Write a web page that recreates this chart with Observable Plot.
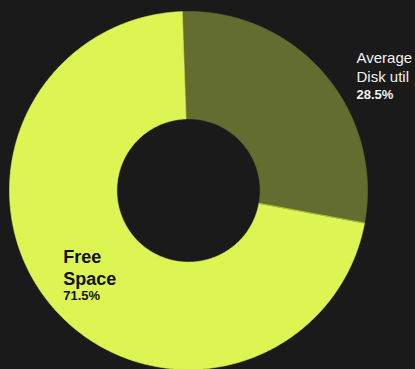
<!DOCTYPE html>
<html>
<head>
<meta charset="utf-8">
<script src="https://cdn.jsdelivr.net/npm/d3@7"></script>
<script src="https://cdn.jsdelivr.net/npm/@observablehq/plot@0.6"></script>
<style>
  html, body { margin: 0; padding: 0; background: #1a1a1a; }
  #chart svg { display: block; background: #1a1a1a; }
</style>
</head>
<body>
<div id="chart"></div>
<script>
// ---- data ----
const names = ["Average\nDisk util", "Free\nSpace"];
const values = [28.5, 71.5];
const colors = ["#646d30", "#dcf553"];

// ---- geometry (in unit-circle data space) ----
const innerR = 0.4;
const deg = Math.PI / 180;
const pie = d3.pie().sort(null).value(d => d.value).startAngle(-2 * deg).endAngle(358 * deg);
const slices = pie(names.map((name, i) => ({name, value: values[i], i})));

const poly = [];
for (const s of slices) {
  const n = Math.max(2, Math.ceil((s.endAngle - s.startAngle) / (0.5 * deg)));
  for (let k = 0; k <= n; k++) {
    const a = s.startAngle + (s.endAngle - s.startAngle) * k / n;
    poly.push({name: s.data.name, x: Math.sin(a), y: -Math.cos(a)});
  }
  for (let k = n; k >= 0; k--) {
    const a = s.startAngle + (s.endAngle - s.startAngle) * k / n;
    poly.push({name: s.data.name, x: innerR * Math.sin(a), y: -innerR * Math.cos(a)});
  }
}

function labelPoint(s, r) {
  const a = (s.startAngle + s.endAngle) / 2;
  return {name: s.data.name, pct: d3.format(".1f")(s.data.value) + "%", x: r * Math.sin(a), y: -r * Math.cos(a)};
}
const outerLabel = [labelPoint(slices[0], 1.238)];
const innerLabel = [labelPoint(slices[1], 0.923)];

const font = "Liberation Sans, Arial, Helvetica, sans-serif";

const chart = Plot.plot({
  width: 415,
  height: 369,
  margin: 0,
  style: {background: "#1a1a1a", fontFamily: font},
  x: {domain: [-1, 1], range: [9, 367], axis: null},
  y: {domain: [-1, 1], range: [11, 369], axis: null},
  color: {domain: names, range: colors},
  marks: [
    Plot.line(poly, {x: "x", y: "y", z: "name", fill: "name", stroke: "name", strokeWidth: 0.6, curve: "linear-closed"}),
    // outside label (Average Disk util)
    Plot.text(outerLabel, {x: "x", y: "y", text: "name", textAnchor: "start", lineAnchor: "top",
      dy: 2.8, fontSize: 15, lineHeight: 1.31, fill: "#f2f2f2", fontFamily: font}),
    Plot.text(outerLabel, {x: "x", y: "y", text: "pct", textAnchor: "start", lineAnchor: "top",
      dy: 43.8, fontSize: 13, fontWeight: "bold", fill: "#f2f2f2", fontFamily: font}),
    // inside label (Free Space)
    Plot.text(innerLabel, {x: "x", y: "y", text: "name", textAnchor: "start", lineAnchor: "top",
      dy: -51, fontSize: 18, lineHeight: 1.22, fontWeight: "bold", fill: "#111111", fontFamily: font}),
    Plot.text(innerLabel, {x: "x", y: "y", text: "pct", textAnchor: "start", lineAnchor: "top",
      dy: -7.7, fontSize: 13, fontWeight: "bold", fill: "#111111", fontFamily: font})
  ]
});
document.getElementById("chart").appendChild(chart);
</script>
</body>
</html>
